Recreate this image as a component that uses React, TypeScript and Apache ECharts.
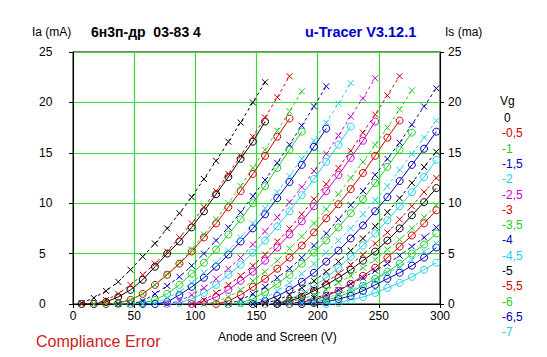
import React, { useEffect, useRef } from "react";
import * as echarts from "echarts";

const _ = null;

// Anode / screen voltage of each sweep step (V)
const anodeV = [7, 17, 27, 37, 47, 57, 67, 77, 87, 97, 107, 117, 127, 137, 147, 157, 167, 177, 187, 197, 207, 217, 227, 237, 247, 257, 267, 277, 287, 297];

// Grid voltage labels
const vgLabels = ["0", "-0,5", "-1", "-1,5", "-2", "-2,5", "-3", "-3,5", "-4", "-4,5", "-5", "-5,5", "-6", "-6,5", "-7"];

// Is curves (x markers, dashed), mA
const is_0 = [0.1, 0.6, 1.3, 2.2, 3.4, 4.7, 6.0, 7.5, 9.0, 10.6, 12.4, 14.2, 16.1, 18.0, 20.0, 22.0, _, _, _, _, _, _, _, _, _, _, _, _, _, _];
const is_05 = [0, 0, 0.4, 1.0, 1.9, 2.9, 4.0, 5.2, 6.6, 8.0, 9.6, 11.2, 12.9, 14.7, 16.6, 18.5, 20.5, 22.6, _, _, _, _, _, _, _, _, _, _, _, _];
const is_1 = [_, 0, 0, 0.1, 0.4, 1.0, 1.9, 3.0, 4.1, 5.4, 6.9, 8.4, 10.0, 11.7, 13.5, 15.3, 17.2, 19.1, 21.1, _, _, _, _, _, _, _, _, _, _, _];
const is_15 = [_, _, _, 0, 0, 0.3, 1.0, 1.8, 2.7, 3.8, 5.0, 6.3, 7.6, 9.1, 10.7, 12.3, 14.0, 15.8, 17.7, 19.6, 21.6, _, _, _, _, _, _, _, _, _];
const is_2 = [_, _, _, _, _, 0, 0.1, 0.6, 1.2, 2.1, 3.1, 4.1, 5.3, 6.6, 8.0, 9.5, 11.1, 12.7, 14.4, 16.2, 18.0, 19.9, 21.9, _, _, _, _, _, _, _];
const is_25 = [_, _, _, _, _, _, _, 0, 0.3, 0.9, 1.6, 2.5, 3.5, 4.6, 5.9, 7.2, 8.6, 10.1, 11.6, 13.2, 14.9, 16.7, 18.6, 20.4, 22.4, _, _, _, _, _];
const is_3 = [_, _, _, _, _, _, _, _, _, 0, 0.4, 1.1, 1.9, 2.8, 3.8, 4.9, 6.2, 7.5, 8.9, 10.4, 11.9, 13.5, 15.2, 17.0, 18.8, 20.7, 22.6, _, _, _];
const is_35 = [_, _, _, _, _, _, _, _, _, _, 0, 0.2, 0.7, 1.4, 2.3, 3.2, 4.3, 5.5, 6.7, 8.0, 9.4, 10.9, 12.5, 14.1, 15.8, 17.5, 19.3, 21.2, _, _];
const is_4 = [_, _, _, _, _, _, _, _, _, _, _, _, 0, 0.4, 1.0, 1.7, 2.6, 3.5, 4.6, 5.8, 7.0, 8.4, 9.8, 11.2, 12.8, 14.4, 16.0, 17.8, 19.6, 21.4];
const is_45 = [_, _, _, _, _, _, _, _, _, _, _, _, _, 0, 0.2, 0.6, 1.3, 2.1, 3.0, 4.0, 5.1, 6.3, 7.5, 8.9, 10.3, 11.7, 13.3, 14.9, 16.5, 18.2];
const is_5 = [_, _, _, _, _, _, _, _, _, _, _, _, _, _, 0, 0.1, 0.4, 0.9, 1.6, 2.3, 3.2, 4.2, 5.3, 6.5, 7.7, 9.1, 10.5, 12.0, 13.6, 15.1];
const is_55 = [_, _, _, _, _, _, _, _, _, _, _, _, _, _, _, 0, 0.1, 0.4, 0.9, 1.5, 2.2, 3.0, 3.9, 4.9, 6.0, 7.1, 8.4, 9.7, 11.1, 12.5];
const is_6 = [_, _, _, _, _, _, _, _, _, _, _, _, _, _, _, _, 0, 0.2, 0.5, 0.9, 1.4, 2.1, 2.8, 3.6, 4.4, 5.4, 6.4, 7.5, 8.6, 9.8];
const is_65 = [_, _, _, _, _, _, _, _, _, _, _, _, _, _, _, _, 0, 0.1, 0.2, 0.6, 0.9, 1.4, 2.0, 2.6, 3.3, 4.0, 4.8, 5.7, 6.6, 7.6];
const is_7 = [_, _, _, _, _, _, _, _, _, _, _, _, _, _, _, _, _, 0, 0.1, 0.3, 0.6, 1.0, 1.4, 1.9, 2.4, 3.1, 3.7, 4.4, 5.2, 6.0];

// Ia curves (circle markers, solid), mA
const ia_0 = [0, 0, 0.2, 0.7, 1.4, 2.4, 3.7, 5.0, 6.2, 7.6, 9.2, 10.9, 12.6, 14.4, 16.1, 18.1, _, _, _, _, _, _, _, _, _, _, _, _, _, _];
const ia_05 = [_, _, 0, 0.1, 0.4, 1.0, 1.9, 2.9, 4.0, 5.2, 6.6, 8.0, 9.6, 11.2, 12.9, 14.7, 16.6, 18.4, _, _, _, _, _, _, _, _, _, _, _, _];
const ia_1 = [_, _, _, 0, 0, 0.1, 0.4, 1.0, 1.9, 3.0, 4.1, 5.4, 6.9, 8.4, 10.0, 11.7, 13.5, 15.3, 17.1, _, _, _, _, _, _, _, _, _, _, _];
const ia_15 = [_, _, _, _, _, 0, 0, 0.2, 0.9, 1.7, 2.6, 3.7, 4.9, 6.2, 7.5, 8.9, 10.5, 12.1, 13.8, 15.6, 17.4, _, _, _, _, _, _, _, _, _];
const ia_2 = [_, _, _, _, _, _, _, 0, 0.1, 0.5, 1.1, 1.9, 2.9, 3.9, 5.1, 6.3, 7.7, 9.2, 10.8, 12.4, 14.1, 15.8, 17.6, _, _, _, _, _, _, _];
const ia_25 = [_, _, _, _, _, _, _, _, _, 0, 0.2, 0.7, 1.4, 2.3, 3.2, 4.3, 5.6, 6.9, 8.2, 9.7, 11.2, 12.8, 14.5, 16.2, 18.1, _, _, _, _, _];
const ia_3 = [_, _, _, _, _, _, _, _, _, _, _, 0, 0.3, 0.9, 1.7, 2.5, 3.5, 4.6, 5.8, 7.1, 8.5, 9.9, 11.4, 13.0, 14.7, 16.5, 18.2, _, _, _];
const ia_35 = [_, _, _, _, _, _, _, _, _, _, _, _, 0, 0.1, 0.5, 1.2, 2.0, 2.9, 4.0, 5.1, 6.3, 7.6, 9.0, 10.4, 12.0, 13.6, 15.3, 17.0, _, _];
const ia_4 = [_, _, _, _, _, _, _, _, _, _, _, _, _, _, 0, 0.3, 0.8, 1.4, 2.2, 3.1, 4.2, 5.3, 6.5, 7.8, 9.2, 10.6, 12.2, 13.8, 15.4, 17.1];
const ia_45 = [_, _, _, _, _, _, _, _, _, _, _, _, _, _, _, 0, 0.1, 0.5, 1.0, 1.8, 2.6, 3.6, 4.7, 5.8, 7.0, 8.3, 9.7, 11.1, 12.6, 14.3];
const ia_5 = [_, _, _, _, _, _, _, _, _, _, _, _, _, _, _, _, 0, 0.3, 0.7, 1.3, 1.9, 2.6, 3.4, 4.3, 5.2, 6.3, 7.5, 8.8, 10.1, 11.5];
const ia_55 = [_, _, _, _, _, _, _, _, _, _, _, _, _, _, _, _, _, 0, 0.2, 0.4, 0.8, 1.3, 2.0, 2.8, 3.6, 4.6, 5.7, 6.8, 8.0, 9.3];
const ia_6 = [_, _, _, _, _, _, _, _, _, _, _, _, _, _, _, _, _, _, 0, 0.2, 0.4, 0.7, 1.2, 1.8, 2.5, 3.2, 4.0, 5.0, 5.9, 7.0];
const ia_65 = [_, _, _, _, _, _, _, _, _, _, _, _, _, _, _, _, _, _, 0, 0.1, 0.2, 0.5, 0.8, 1.3, 1.9, 2.5, 3.1, 3.8, 4.6, 5.6];
const ia_7 = [_, _, _, _, _, _, _, _, _, _, _, _, _, _, _, _, _, _, _, _, 0, 0.1, 0.4, 0.7, 1.1, 1.6, 2.1, 2.7, 3.4, 4.1];

const isCurves = [is_0, is_05, is_1, is_15, is_2, is_25, is_3, is_35, is_4, is_45, is_5, is_55, is_6, is_65, is_7];
const iaCurves = [ia_0, ia_05, ia_1, ia_15, ia_2, ia_25, ia_3, ia_35, ia_4, ia_45, ia_5, ia_55, ia_6, ia_65, ia_7];

// Styles
const vgColors = ["#000000", "#cc0000", "#22cc22", "#0000b4", "#22d0e6", "#cc00cc", "#cc0000", "#22cc22", "#0000b4", "#22d0e6", "#000000", "#cc0000", "#22cc22", "#0000b4", "#22d0e6"];
const FONT = "'Liberation Sans', Arial, sans-serif";

function toPairs(arr: (number | null)[]) {
  const out: number[][] = [];
  arr.forEach((v, i) => {
    if (v !== null) out.push([anodeV[i], v]);
  });
  return out;
}

export default function App() {
  const ref = useRef<HTMLDivElement>(null);
  useEffect(() => {
    if (!ref.current) return;
    const chart = echarts.init(ref.current, null, { renderer: "svg" });
    const series: any[] = [];
    vgLabels.forEach((lab, k) => {
      const c = vgColors[k];
      series.push({
        type: "line",
        name: "Is " + lab,
        data: toPairs(isCurves[k]),
        symbol: "path://M0,0L10,10M10,0L0,10",
        symbolSize: 6,
        lineStyle: { color: c, width: 1, type: [3, 3] },
        itemStyle: { color: c, borderColor: c, borderWidth: 1 },
        silent: true,
        emphasis: { disabled: true },
        z: 3,
      });
      series.push({
        type: "line",
        name: "Ia " + lab,
        data: toPairs(iaCurves[k]),
        symbol: "circle",
        symbolSize: 7,
        lineStyle: { color: c, width: 1 },
        itemStyle: { color: "rgba(0,0,0,0)", borderColor: c, borderWidth: 1 },
        silent: true,
        emphasis: { disabled: true },
        z: 3,
      });
    });

    const legendTexts: any[] = [
      { type: "text", left: 500, top: 95, style: { text: "Vg", fontSize: 12, fontFamily: FONT, fill: "#000" } },
    ];
    vgLabels.forEach((lab, k) => {
      legendTexts.push({
        type: "text",
        left: lab === "0" ? 504 : 502,
        top: 112 + k * 15.3,
        style: { text: lab, fontSize: 12, fontFamily: FONT, fill: vgColors[k] },
      });
    });

    chart.setOption({
      animation: false,
      backgroundColor: "#ffffff",
      grid: { left: 73, right: 107, top: 52, bottom: 53, show: true, borderColor: "#000", borderWidth: 1, backgroundColor: "transparent" },
      xAxis: {
        type: "value",
        min: 0,
        max: 300,
        interval: 50,
        axisLine: { show: true, lineStyle: { color: "#000", width: 1 } },
        axisTick: { show: true, length: 4, lineStyle: { color: "#000" } },
        axisLabel: { color: "#000", fontSize: 12, fontFamily: FONT, margin: 6 },
        splitLine: { show: true, lineStyle: { color: "#33dd33", width: 1.2 } },
      },
      yAxis: [
        {
          type: "value",
          min: 0,
          max: 25,
          interval: 5,
          position: "left",
          axisLine: { show: true, lineStyle: { color: "#000", width: 1 } },
          axisTick: { show: true, length: 4, lineStyle: { color: "#000" } },
          axisLabel: { color: "#000", fontSize: 12, fontFamily: FONT, margin: 34, align: "left" },
          splitLine: { show: true, lineStyle: { color: "#33dd33", width: 1.2 } },
        },
        {
          type: "value",
          min: 0,
          max: 25,
          interval: 5,
          position: "right",
          axisLine: { show: true, lineStyle: { color: "#000", width: 1 } },
          axisTick: { show: true, length: 4, lineStyle: { color: "#000" } },
          axisLabel: { color: "#000", fontSize: 12, fontFamily: FONT, margin: 8 },
          splitLine: { show: false },
        },
      ],
      series,
      graphic: [
        { type: "text", left: 32, top: 26, style: { text: "Ia (mA)", fontSize: 12, fontFamily: FONT, fill: "#000" } },
        { type: "text", left: 91, top: 25, style: { text: "6н3п-др  03-83 4", fontSize: 14, fontWeight: "bold", fontFamily: FONT, fill: "#000" } },
        { type: "text", left: 305, top: 24, style: { text: "u-Tracer V3.12.1", fontSize: 14.5, fontWeight: "bold", fontFamily: FONT, fill: "#0000cc" } },
        { type: "text", left: 445, top: 26, style: { text: "Is (ma)", fontSize: 12, fontFamily: FONT, fill: "#000" } },
        { type: "text", left: 218, top: 331, style: { text: "Anode and Screen (V)", fontSize: 12, fontFamily: FONT, fill: "#000" } },
        { type: "text", left: 36, top: 333, style: { text: "Compliance Error", fontSize: 16, fontFamily: FONT, fill: "#cc2222" } },
        ...legendTexts,
      ],
    });
    return () => chart.dispose();
  }, []);
  return (
    <div
      ref={ref}
      style={{ position: "absolute", left: 0, top: 0, width: 547, height: 357, background: "#fff" }}
    />
  );
}
